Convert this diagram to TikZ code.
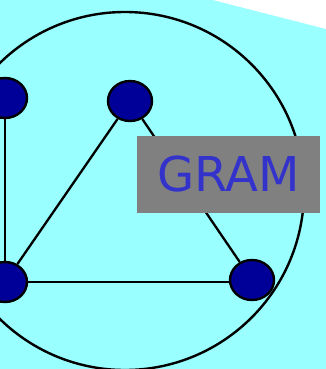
\documentclass[tikz,border=0pt]{standalone}
\usepackage{fontspec}
\setmainfont{DejaVu Sans}
\usetikzlibrary{shapes.geometric}
\definecolor{bgcyan}{RGB}{153,255,255}
\definecolor{nodeblue}{RGB}{0,0,153}
\definecolor{textblue}{RGB}{51,51,204}
\definecolor{boxgray}{RGB}{128,128,128}
\tikzset{
  vert/.style={ellipse, draw=black, line width=2.4pt, fill=nodeblue, minimum width=44pt, minimum height=40pt, inner sep=0pt},
  edge/.style={draw=black, line width=2.3pt},
  labelbox/.style={rectangle, fill=boxgray, text=textblue, minimum width=183pt, minimum height=77pt, inner sep=0pt, font=\fontsize{48}{48}\selectfont}
}
\begin{document}
\begin{tikzpicture}[x=1pt,y=-1pt]
\useasboundingbox (0,0) rectangle (326,369);
\clip (0,0) rectangle (326,369);
\fill[bgcyan] (0,0) rectangle (326,369);
\fill[white] (213,0) -- (326,0) -- (326,29) -- cycle;
\draw[line width=2.4pt] (125,191) circle (179pt);
\node[vert] (a) at (5,98) {};
\node[vert] (b) at (130,101) {};
\node[vert] (c) at (5,282) {};
\node[vert] (d) at (252,280) {};
\draw[edge] (a) -- (c);
\draw[edge] (b) -- (c);
\draw[edge] (b) -- (d);
\draw[edge] (c.east) -- (c.east -| d.west);
\node[labelbox] (g) at (228.5,174.5) {GRAM};
\end{tikzpicture}
\end{document}
